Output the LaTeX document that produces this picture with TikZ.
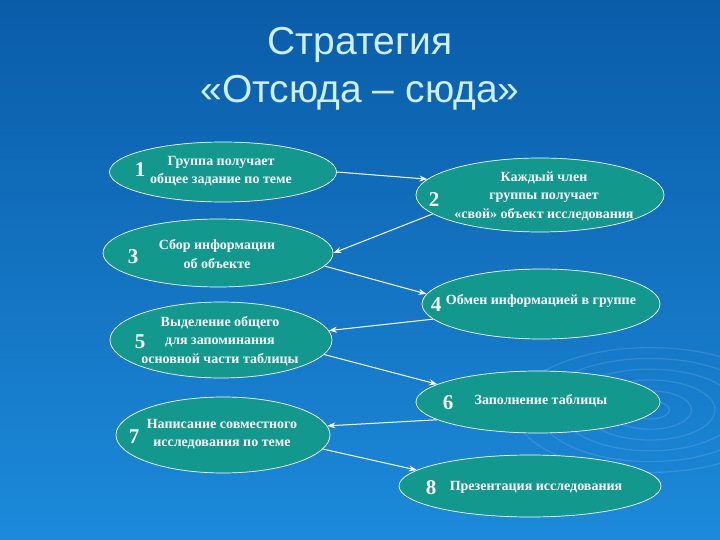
\documentclass[tikz,border=0pt]{standalone}
\usepackage{fontspec}
\setmainfont{Liberation Serif}
\newfontfamily\titlefont{Liberation Sans}
\usetikzlibrary{shapes.geometric,arrows.meta}
\definecolor{bgtop}{HTML}{0A5CA8}
\definecolor{bgbot}{HTML}{1C8ADA}
\definecolor{teal}{HTML}{13988E}
\definecolor{titlec}{HTML}{CDEFFF}
\tikzset{
  oval/.style={ellipse, draw=white, line width=0.7pt, fill=teal, inner sep=0pt},
  num/.style={text=white, font=\bfseries\fontsize{21}{21}\selectfont, inner sep=0pt},
  txt/.style={text=white, font=\bfseries\fontsize{14}{18.5}\selectfont, align=center, inner sep=0pt},
  link/.style={draw=white, line width=1pt, -{Stealth[length=8pt,width=6pt]}},
  ripple/.style={draw=white, opacity=0.12, line width=1.2pt}
}
\begin{document}
\begin{tikzpicture}[x=1pt,y=-1pt]
\shade[top color=bgtop, bottom color=bgbot] (0,0) rectangle (720,540);
\useasboundingbox (0,0) rectangle (720,540);
\foreach \r in {15,32,50,68,86,104}{
  \draw[ripple] (650,410) ellipse ({\r*1.3} and {\r*0.6});
}
\node[text=titlec, font=\titlefont\fontsize{39}{48}\selectfont, align=center] (title) at (360,69) {Стратегия\\«Отсюда – сюда»};

\node[oval, minimum width=227pt, minimum height=60pt] (e1) at (223,172) {};
\node[num] (n1) at (140,170) {1};
\node[txt] (t1) at (221,171) {Группа получает\\общее задание по теме};

\node[oval, minimum width=248pt, minimum height=74pt] (e2) at (540,195) {};
\node[num] (n2) at (434,200) {2};
\node[txt] (t2) at (544,196) {Каждый член\\группы получает\\«свой» объект исследования};

\node[oval, minimum width=230pt, minimum height=68pt] (e3) at (218,253) {};
\node[num] (n3) at (133,257) {3};
\node[txt] (t3) at (217,254) {Сбор информации\\об объекте};

\node[oval, minimum width=238pt, minimum height=70pt] (e4) at (541,304) {};
\node[num] (n4) at (436,305) {4};
\node[txt] (t4) at (541,301) {Обмен информацией в группе};

\node[oval, minimum width=222pt, minimum height=76pt] (e5) at (221,340) {};
\node[num] (n5) at (140,342) {5};
\node[txt] (t5) at (220,341) {Выделение общего\\для запоминания\\основной части таблицы};

\node[oval, minimum width=244pt, minimum height=62pt] (e6) at (538,402) {};
\node[num] (n6) at (448,403) {6};
\node[txt] (t6) at (541,401) {Заполнение таблицы};

\node[oval, minimum width=214pt, minimum height=76pt] (e7) at (223,435) {};
\node[num] (n7) at (134,437) {7};
\node[txt] (t7) at (222,434) {Написание совместного\\исследования по теме};

\node[oval, minimum width=262pt, minimum height=62pt] (e8) at (530,486) {};
\node[num] (n8) at (431,488) {8};
\node[txt] (t8) at (536,487) {Презентация исследования};

\draw[link] (e1.0) -- (e2.172);
\draw[link] (e2.190) -- (e3.0);
\draw[link] (e3.353) -- (e4.175);
\draw[link] (e4.188) -- (e5.5);
\draw[link] (e5.352) -- (e6.170);
\draw[link] (e6.190) -- (e7.5);
\draw[link] (e7.352) -- (e8.172);
\end{tikzpicture}
\end{document}
